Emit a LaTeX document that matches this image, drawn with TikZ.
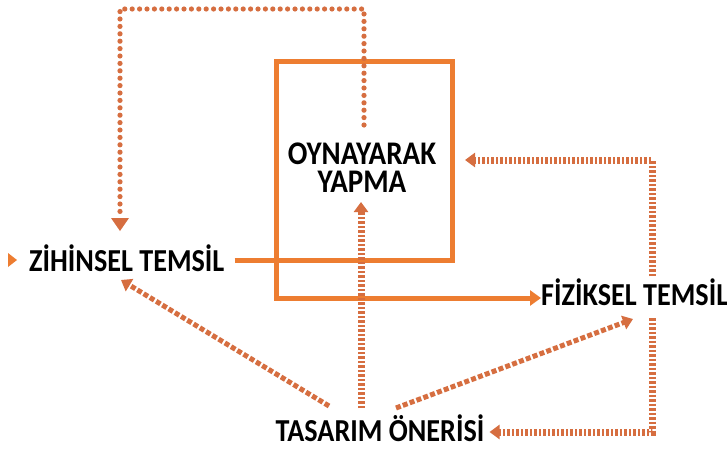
\documentclass[tikz,border=0pt]{standalone}
\usepackage{fontspec}
\setmainfont{Carlito}
\usetikzlibrary{arrows.meta}
\definecolor{org}{HTML}{ED7D31}
\definecolor{dotc}{RGB}{214,110,64}
\newcommand{\sq}[1]{\scalebox{0.88}[1]{#1}}
\begin{document}
\begin{tikzpicture}[x=1pt,y=-1pt,
  lbl/.style={font=\bfseries\fontsize{32}{28}\selectfont, inner sep=0pt, text=black},
  solidline/.style={draw=org, line width=5pt},
  roundline/.style={draw=dotc, line width=5.2pt, line cap=round, dash pattern=on 0pt off 7.4pt},
  sqline/.style={draw=dotc, line width=7pt, dash pattern=on 2.5pt off 2pt},
  diagline/.style={draw=dotc, line width=5pt, dash pattern=on 5pt off 2.3pt},
  bigtip/.style={-{Triangle[length=11pt,width=15pt]}},
  smalltip/.style={-{Triangle[length=10pt,width=14pt]}}
]
\path[use as bounding box, fill=white] (0,0) rectangle (727,452);

% labels
\node[lbl, anchor=base west] (zih) at (29,271) {\sq{ZİHİNSEL TEMSİL}};
\node[lbl, anchor=base west] (fiz) at (541,305) {\sq{FİZİKSEL TEMSİL}};
\node[lbl, anchor=base] (tas) at (380,441) {\sq{TASARIM ÖNERİSİ}};
\node[lbl, align=center, font=\bfseries\fontsize{33}{28}\selectfont] (oyn) at (362,168) {\sq{OYNAYARAK}\\\sq{YAPMA}};

% small marker left of ZİHİNSEL TEMSİL
\fill[org] (8,253) -- (17,260) -- (8,267) -- cycle;

% named corner coordinates
\coordinate (boxR) at (452,260);
\coordinate (boxTR) at (452,61);
\coordinate (boxTL) at (276,61);
\coordinate (boxBL) at (276,298);

% solid loop from ZİHİNSEL TEMSİL through the box to FİZİKSEL TEMSİL
\draw[solidline, bigtip, line join=miter] (zih.east |- 0,260) ++(10,0) -- (boxR) -- (boxTR) -- (boxTL) -- (boxBL) -- (fiz.west |- 0,298);

% round dotted: OYNAYARAK YAPMA -> ZİHİNSEL TEMSİL
\coordinate (dTR) at (364,9);
\coordinate (dTL) at (120,9);
\draw[roundline] (364,125) -- (dTR) -- (dTL) -- (120,218);
\fill[dotc] (111,218) -- (129,218) -- (120,231) -- cycle;

% square dotted arrows from TASARIM ÖNERİSİ
\coordinate (oynBot) at (361,202);
\coordinate (zihBot) at (121,280);
\coordinate (fizBot) at (633,319);
\draw[sqline, smalltip] (361,408) -- (oynBot);
\draw[diagline, smalltip] (329,406) -- (zihBot);
\draw[diagline, smalltip] (396,408) -- (fizBot);

% FİZİKSEL TEMSİL -> TASARIM ÖNERİSİ
\coordinate (fBR) at (652,432);
\draw[sqline, smalltip] (652,318) -- (fBR) -- ([xshift=5pt]tas.east |- 0,432);
% FİZİKSEL TEMSİL -> OYNAYARAK YAPMA
\coordinate (fTR) at (652,160);
\coordinate (boxIn) at (465,160);
\draw[sqline, smalltip] (652,276) -- (fTR) -- (boxIn);
\end{tikzpicture}
\end{document}
